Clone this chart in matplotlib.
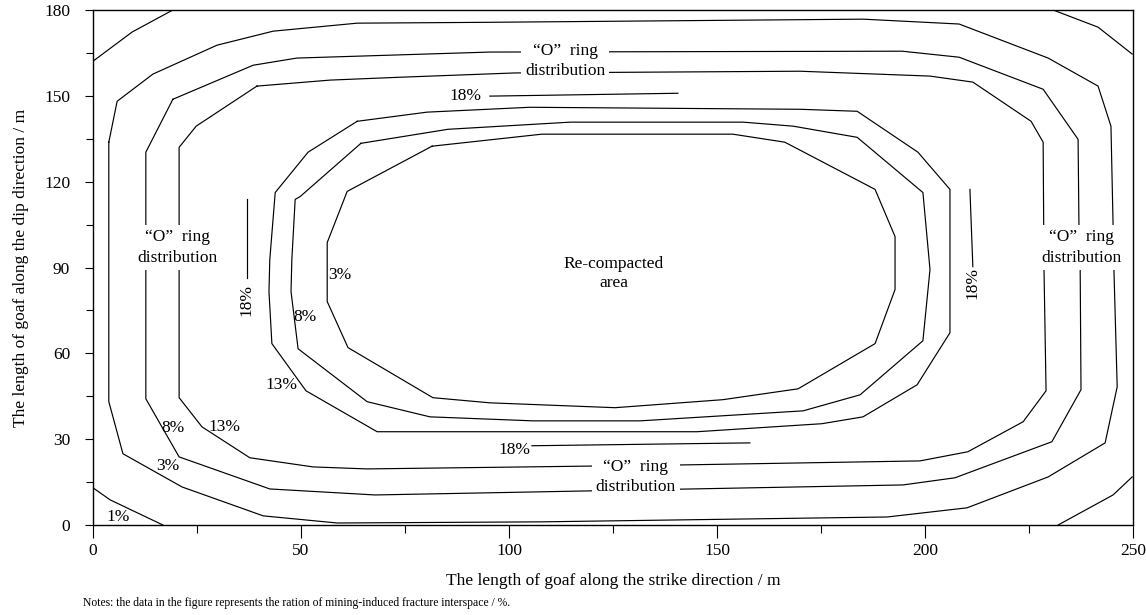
import numpy as np
import matplotlib
matplotlib.use('Agg')
import matplotlib.pyplot as plt
from matplotlib.ticker import MultipleLocator

plt.rcParams['font.family'] = ['Liberation Serif', 'DejaVu Serif']

# contour rings (strike / m, dip / m)
ring_3_outer = [(3.8, 133.8), (3.8, 43.1), (7.2, 24.9), (21.4, 13.3), (40.9, 3.2), (58.7, 0.7),
                (107.7, 1.1), (190.9, 2.8), (210.1, 6.0), (229.6, 16.8), (243.3, 28.7), (246.2, 48.3),
                (245.4, 90.0), (245.2, 105.7), (244.7, 139.4), (241.6, 153.4), (229.6, 163.2),
                (208.2, 175.1), (185.1, 176.8), (95.4, 175.7), (63.5, 175.4), (43.3, 172.6),
                (29.8, 167.7), (14.4, 157.6), (5.8, 148.1)]
ring_8_outer = [(19.2, 148.8), (12.7, 130.3), (12.7, 44.1), (20.7, 23.8), (42.5, 12.6), (67.8, 10.5),
                (194.7, 14.0), (207.2, 16.5), (230.5, 29.1), (237.5, 47.3), (237.3, 90.0),
                (237.0, 105.7), (236.8, 134.8), (228.4, 152.3), (208.2, 163.5), (194.5, 165.6),
                (95.4, 165.3), (49.0, 163.2), (38.5, 160.7)]
ring_13_outer = [(39.4, 153.4), (24.8, 139.4), (20.7, 132.0), (20.7, 44.5), (26.2, 34.3), (37.7, 23.5),
                 (52.9, 20.3), (65.9, 19.6), (141.8, 21.0), (198.8, 22.4), (210.3, 25.6), (223.6, 36.1),
                 (229.1, 46.9), (228.6, 90.0), (228.4, 133.8), (225.5, 141.1), (211.5, 154.8),
                 (201.2, 156.9), (170.0, 158.6), (125.0, 158.2), (101.4, 158.0), (73.8, 156.5),
                 (57.0, 155.5)]
ring_13_inner = [(63.5, 141.1), (51.7, 130.3), (43.8, 116.2), (42.5, 92.8), (42.3, 81.6), (43.0, 63.4),
                 (51.2, 46.9), (68.3, 32.6), (145.2, 32.6), (175.2, 35.4), (185.1, 37.8), (198.1, 49.0),
                 (206.0, 67.2), (206.0, 117.3), (198.3, 130.3), (183.7, 144.6), (170.0, 145.3),
                 (105.0, 146.0), (80.3, 144.3)]
ring_8_inner = [(64.4, 133.4), (49.8, 114.8), (48.6, 113.8), (47.8, 92.8), (47.6, 81.6), (49.3, 61.6),
                (65.9, 43.1), (81.0, 37.8), (105.8, 36.4), (131.5, 36.4), (170.7, 39.9), (184.4, 45.5),
                (199.5, 64.4), (201.2, 89.3), (199.5, 116.2), (183.7, 135.5), (168.3, 139.4),
                (156.3, 140.8), (114.7, 140.8), (85.3, 138.3)]
ring_3_inner = [(81.5, 132.4), (61.1, 116.6), (56.3, 98.7), (56.3, 78.1), (61.3, 62.0), (81.7, 44.5),
                (95.4, 42.7), (125.5, 41.0), (151.4, 43.8), (169.5, 47.6), (188.0, 63.4), (192.8, 82.3),
                (192.8, 100.8), (188.0, 117.3), (166.3, 133.8), (153.8, 136.6), (107.9, 136.6)]

# 1% corner lines
corner_bl = [(0, 13.0), (4.1, 8.8), (16.8, 0)]
corner_tl = [(0, 162.1), (9.4, 172.3), (19.2, 180)]
corner_tr = [(230.8, 180), (241.6, 174.0), (249.8, 164.6)]
corner_br = [(249.8, 16.8), (245.2, 10.5), (232.0, 0)]

# 18% leader lines
lead_top = [(95.4, 149.9), (140.6, 150.9)]
lead_bottom = [(105.5, 27.7), (157.9, 28.7)]
lead_left = [(37.0, 113.8), (37.0, 86.5)]
lead_right = [(210.8, 117.3), (211.5, 90.3)]

fig = plt.figure(figsize=(11.46, 6.15), dpi=100)
ax = fig.add_axes([93 / 1146, 1 - 525 / 615, 1040 / 1146, 515 / 615])

lw = 0.85
for ring in [ring_3_outer, ring_8_outer, ring_13_outer, ring_13_inner, ring_8_inner, ring_3_inner]:
    pts = np.array(ring + [ring[0]])
    ax.plot(pts[:, 0], pts[:, 1], color='black', lw=lw, zorder=2)
for seg in [corner_bl, corner_tl, corner_tr, corner_br, lead_top, lead_bottom, lead_left, lead_right]:
    pts = np.array(seg)
    ax.plot(pts[:, 0], pts[:, 1], color='black', lw=lw, zorder=2)

fs = 12.5
box = dict(facecolor='white', edgecolor='none', pad=3)
o_ring = '\u201cO\u201d  ring\ndistribution'
ax.text(113.5, 162.3, o_ring, ha='center', va='center', fontsize=fs, bbox=box, zorder=3, linespacing=1.35)
ax.text(130.5, 16.8, o_ring, ha='center', va='center', fontsize=fs, bbox=box, zorder=3, linespacing=1.35)
ax.text(20.4, 97.0, o_ring, ha='center', va='center', fontsize=fs, bbox=box, zorder=3, linespacing=1.35)
ax.text(237.6, 97.0, o_ring, ha='center', va='center', fontsize=fs, bbox=box, zorder=3, linespacing=1.35)
ax.text(125.2, 87.9, 'Re-compacted\narea', ha='center', va='center', fontsize=fs, linespacing=1.3)

labels = [('1%', 6.0, 2.8), ('3%', 18.0, 20.7), ('8%', 19.2, 34.0), ('13%', 31.7, 34.3),
          ('13%', 45.4, 49.0), ('8%', 51.0, 72.8), ('3%', 59.4, 87.5),
          ('18%', 89.6, 150.0), ('18%', 101.4, 26.3)]
for t, x, y in labels:
    ax.text(x, y, t, ha='center', va='center', fontsize=fs)
ax.text(37.0, 78.8, '18%', ha='center', va='center', fontsize=fs, rotation=90)
ax.text(211.5, 84.7, '18%', ha='center', va='center', fontsize=fs, rotation=90)

ax.set_xlim(0, 250)
ax.set_ylim(0, 180)
ax.xaxis.set_major_locator(MultipleLocator(50))
ax.xaxis.set_minor_locator(MultipleLocator(25))
ax.yaxis.set_major_locator(MultipleLocator(30))
ax.yaxis.set_minor_locator(MultipleLocator(15))
ax.tick_params(axis='x', which='major', direction='out', length=9, width=0.8, pad=4, labelsize=12.5)
ax.tick_params(axis='x', which='minor', direction='out', length=5.5, width=0.8)
ax.tick_params(axis='y', which='major', direction='out', length=5.5, width=0.8, pad=11, labelsize=12.5)
ax.tick_params(axis='y', which='minor', direction='out', length=5, width=0.8)
for s in ax.spines.values():
    s.set_linewidth(1.0)

ax.set_xlabel('The length of goaf along the strike direction / m', fontsize=12.5, labelpad=10)
ax.set_ylabel('The length of goaf along the dip direction / m', fontsize=12.5, labelpad=11)

fig.text(83 / 1146, 1 - 603 / 615, 'Notes: the data in the figure represents the ration of mining-induced fracture interspace / %.',
         fontsize=8.4, ha='left', va='center')

fig.savefig('out.png', dpi=100)
